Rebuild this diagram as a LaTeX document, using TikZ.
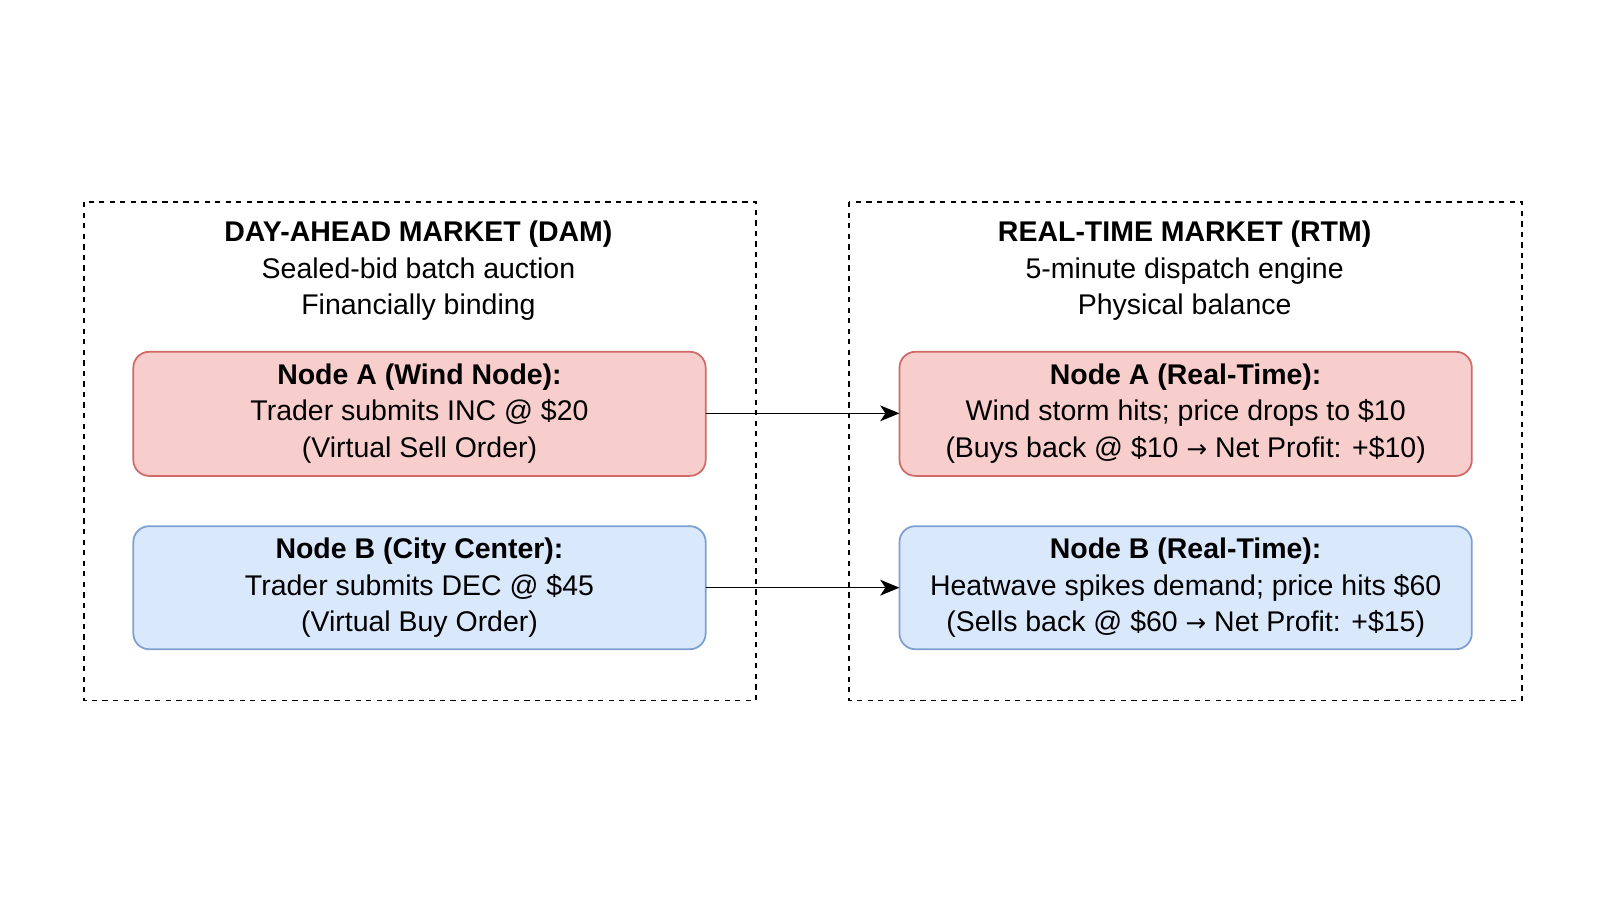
\documentclass[tikz,border=0pt]{standalone}
\usepackage{fontspec}
\setmainfont{Liberation Sans}
\usetikzlibrary{arrows.meta}
\definecolor{rfill}{HTML}{F8CECC}
\definecolor{rline}{HTML}{D06A66}
\definecolor{bfill}{HTML}{DAE8FC}
\definecolor{bline}{HTML}{7E9FD0}
\begin{document}
\begin{tikzpicture}[x=0.02051cm,y=-0.02051cm,
  zone/.style={draw,line width=0.9pt,dash pattern=on 3pt off 3pt},
  txt/.style={font=\fontsize{16.2}{20.8}\selectfont,align=center},
  rbox/.style={draw=rline,fill=rfill,rounded corners=9pt,line width=1pt},
  bbox/.style={draw=bline,fill=bfill,rounded corners=9pt,line width=1pt},
  conn/.style={-{Stealth[length=11pt,width=9pt,inset=3pt]},line width=0.8pt}]
\useasboundingbox (0,0) rectangle (1560,877.5);
\draw[zone] (82,197) rectangle (737,683);
\draw[zone] (828,197) rectangle (1484,683);
\node[txt] (t1) at (408,264) {\textbf{DAY-AHEAD MARKET (DAM)}\\Sealed-bid batch auction\\Financially binding};
\node[txt] (t2) at (1155,264) {\textbf{REAL-TIME MARKET (RTM)}\\5-minute dispatch engine\\Physical balance};
\draw[rbox] (130,343) rectangle (688,464);
\draw[rbox] (877,343) rectangle (1435,464);
\draw[bbox] (130,513) rectangle (688,633);
\draw[bbox] (877,513) rectangle (1435,633);
\node[txt] (a1) at (409,403) {\textbf{Node A (Wind Node):}\\Trader submits INC @ \$20\\(Virtual Sell Order)};
\node[txt] (a2) at (1156,403) {\textbf{Node A (Real-Time):}\\Wind storm hits; price drops to \$10\\(Buys back @ \$10 {\fontspec{DejaVu Sans}\fontsize{14}{14}\selectfont →} Net Profit: +\$10)};
\node[txt] (b1) at (409,573) {\textbf{Node B (City Center):}\\Trader submits DEC @ \$45\\(Virtual Buy Order)};
\node[txt] (b2) at (1156,573) {\textbf{Node B (Real-Time):}\\Heatwave spikes demand; price hits \$60\\(Sells back @ \$60 {\fontspec{DejaVu Sans}\fontsize{14}{14}\selectfont →} Net Profit: +\$15)};
\coordinate (a1e) at (688,403); \coordinate (a2w) at (877,403);
\coordinate (b1e) at (688,573); \coordinate (b2w) at (877,573);
\draw[conn] (a1e) -- (a2w);
\draw[conn] (b1e) -- (b2w);
\end{tikzpicture}
\end{document}
